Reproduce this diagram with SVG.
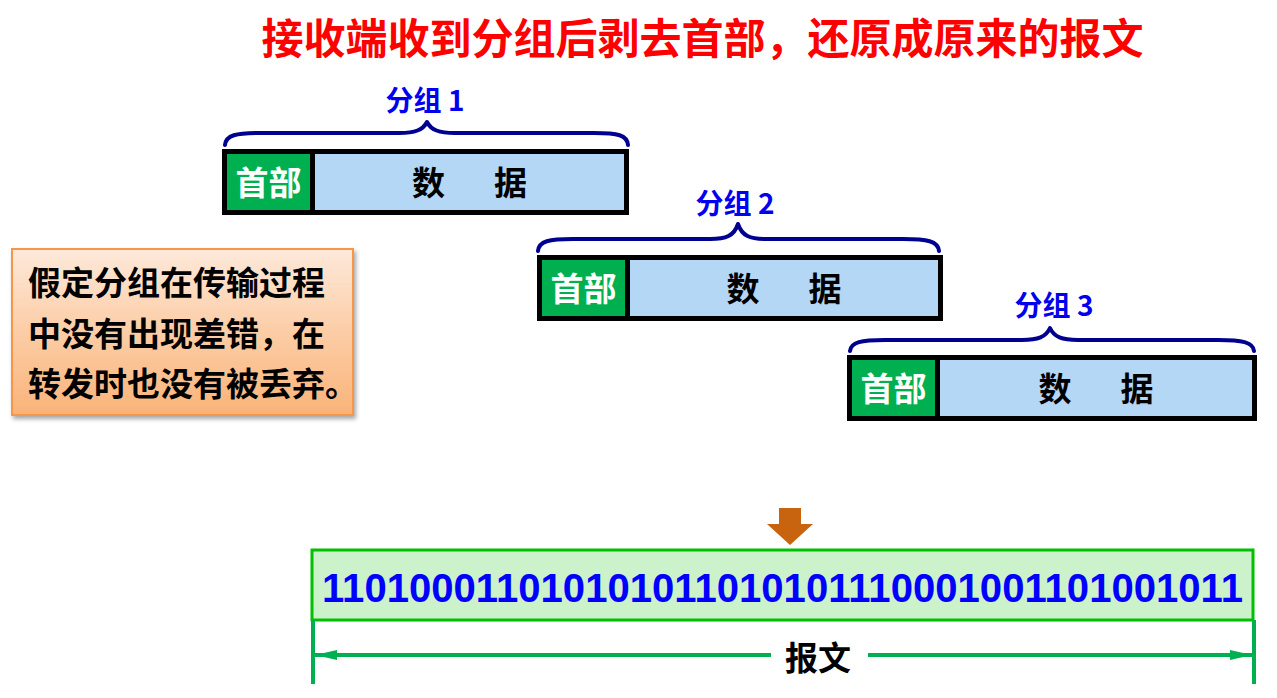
<svg xmlns="http://www.w3.org/2000/svg" width="1277" height="698" viewBox="0 0 1277 698">
  <defs>
    <linearGradient id="orangeGrad" x1="0" y1="0" x2="0" y2="1">
      <stop offset="0" stop-color="#FDE9DA"/>
      <stop offset="0.5" stop-color="#FCCDA6"/>
      <stop offset="1" stop-color="#F9B379"/>
    </linearGradient>
    <filter id="shadow" x="-10%" y="-10%" width="125%" height="130%">
      <feDropShadow dx="2" dy="3" stdDeviation="2" flood-color="#000" flood-opacity="0.35"/>
    </filter>
    <marker id="dimArrow" markerUnits="userSpaceOnUse" markerWidth="24" markerHeight="12" refX="22" refY="6" orient="auto-start-reverse">
      <path d="M0,1 L22,6 L0,11 Z" fill="#00B050"/>
    </marker>
    <style>
      .cjk { font-family: "Noto Sans CJK SC", "Noto Sans", sans-serif; font-weight: bold; }
      .title { font-size: 42px; fill: #FF0000; }
      .plabel { font-size: 28px; fill: #0000F0; text-anchor: middle; }
      .brace { fill: none; stroke: #000090; stroke-width: 4; stroke-linecap: round; stroke-linejoin: round; }
      .pframe { fill: none; stroke: #000000; stroke-width: 5; }
      .pdata { fill: #B3D7F5; }
      .phead { fill: #00B050; }
      .htext { font-size: 33px; fill: #FFFFFF; text-anchor: middle; }
      .dtext { font-size: 33px; fill: #000000; text-anchor: middle; }
      .note { font-size: 33px; fill: #000000; }
      .dim { stroke: #00B050; stroke-width: 4; fill: none; }
    </style>
  </defs>

  <rect x="0" y="0" width="1277" height="698" fill="#FFFFFF"/>

  <g id="title">
    <text class="cjk title" x="702.5" y="54" text-anchor="middle">接收端收到分组后剥去首部，还原成原来的报文</text>
  </g>

  <g id="packet1">
    <text class="cjk plabel" x="425" y="111">分组 1</text>
    <path class="brace" d="M225,145 C226,135 236,133 260,133 L399,133 C415,133 423,130 427,122 C431,130 439,133 455,133 L594,133 C618,133 627,135 628,145"/>
    <g transform="translate(224.5,151.5)">
      <rect class="pdata" x="0" y="0" width="402" height="61"/>
      <rect class="phead" x="0" y="0" width="88" height="61"/>
      <line x1="88" y1="0" x2="88" y2="61" stroke="#000" stroke-width="5"/>
      <rect class="pframe" x="0" y="0" width="402" height="61"/>
      <text class="cjk htext" x="44" y="43">首部</text>
      <text class="cjk dtext" x="204" y="43">数</text>
      <text class="cjk dtext" x="286" y="43">据</text>
    </g>
  </g>

  <g id="packet2">
    <text class="cjk plabel" x="735" y="214">分组 2</text>
    <path class="brace" d="M538,251 C539,241 549,239 573,239 L710,239 C726,239 734,236 738,224 C742,236 750,239 766,239 L903,239 C927,239 938,241 939,251"/>
    <g transform="translate(539.5,257.5)">
      <rect class="pdata" x="0" y="0" width="401" height="61"/>
      <rect class="phead" x="0" y="0" width="88" height="61"/>
      <line x1="88" y1="0" x2="88" y2="61" stroke="#000" stroke-width="5"/>
      <rect class="pframe" x="0" y="0" width="401" height="61"/>
      <text class="cjk htext" x="44" y="43">首部</text>
      <text class="cjk dtext" x="203.5" y="43">数</text>
      <text class="cjk dtext" x="285.5" y="43">据</text>
    </g>
  </g>

  <g id="packet3">
    <text class="cjk plabel" x="1054" y="316">分组 3</text>
    <path class="brace" d="M850,351 C851,342 861,340 885,340 L1022,340 C1038,340 1046,337 1050,328 C1054,337 1062,340 1078,340 L1218,340 C1242,340 1253,342 1254,351"/>
    <g transform="translate(849.5,357.5)">
      <rect class="pdata" x="0" y="0" width="405" height="61"/>
      <rect class="phead" x="0" y="0" width="88" height="61"/>
      <line x1="88" y1="0" x2="88" y2="61" stroke="#000" stroke-width="5"/>
      <rect class="pframe" x="0" y="0" width="405" height="61"/>
      <text class="cjk htext" x="44" y="43">首部</text>
      <text class="cjk dtext" x="205.5" y="43">数</text>
      <text class="cjk dtext" x="287.5" y="43">据</text>
    </g>
  </g>

  <g id="note">
    <rect x="12" y="249" width="341" height="166" fill="url(#orangeGrad)" stroke="#F79646" stroke-width="2" filter="url(#shadow)"/>
    <text class="cjk note" x="28" y="295">假定分组在传输过程</text>
    <text class="cjk note" x="28" y="346">中没有出现差错，在</text>
    <text class="cjk note" x="28" y="396">转发时也没有被丢弃。</text>
  </g>

  <g id="message">
    <rect x="312" y="550" width="941" height="70" fill="#CCF2CC" stroke="#00C000" stroke-width="3"/>
    <text x="322" y="602" font-family="Liberation Sans, Arial, sans-serif" font-weight="bold" font-size="41" fill="#0000FF" textLength="921" lengthAdjust="spacingAndGlyphs">110100011010101011010101110001001101001011</text>
  </g>

  <g id="connectors">
    <path d="M779,508 L801,508 L801,524 L813,524 L790,545 L767,524 L779,524 Z" fill="#C86410"/>
    <line class="dim" x1="313" y1="620" x2="313" y2="684"/>
    <line class="dim" x1="1254" y1="620" x2="1254" y2="684"/>
    <line class="dim" x1="771" y1="655" x2="315" y2="655" marker-end="url(#dimArrow)"/>
    <line class="dim" x1="868" y1="655" x2="1252" y2="655" marker-end="url(#dimArrow)"/>
    <text class="cjk" x="818" y="670" font-size="33" fill="#000" text-anchor="middle">报文</text>
  </g>
</svg>
